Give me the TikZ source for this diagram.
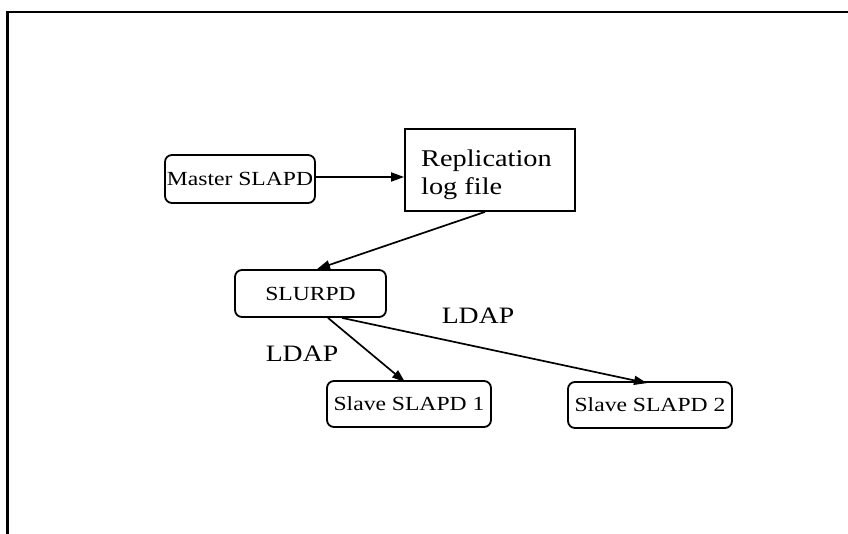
\documentclass[tikz,border=0pt]{standalone}
\usepackage{fontspec}
\setmainfont[FakeStretch=1.18]{Liberation Serif}
\usetikzlibrary{arrows.meta}
\tikzset{
  box/.style={draw, line width=1.8pt, rounded corners=7pt, inner sep=0pt,
              font=\fontsize{20}{23}\selectfont},
  logbox/.style={draw, line width=1.8pt, inner sep=0pt},
  logtext/.style={inner sep=0pt, font=\fontsize{24}{28}\selectfont},
  proto/.style={font=\fontsize{23.5}{26}\selectfont, inner sep=0pt},
  link/.style={line width=1.7pt, -{Triangle[length=13pt,width=9pt]}},
  frame/.style={line width=2.5pt}
}
\begin{document}
\begin{tikzpicture}[x=1pt,y=-1pt]
  \useasboundingbox (0,0) rectangle (848,534);
  % page frame: top and left edges
  \coordinate (ftl) at (7.5,12);
  \coordinate (ftr) at (850,12);
  \coordinate (fbl) at (7.5,536);
  \draw[frame] (ftr) -- (ftl) -- (fbl);

  \node[box, minimum width=150pt, minimum height=48pt] (master) at (240,179) {Master SLAPD};
  \node[logbox, minimum width=170pt, minimum height=82pt] (log) at (490,170) {};
  \node[logtext, anchor=base west] (logl1) at (421,167) {Replication};
  \node[logtext, anchor=base west] (logl2) at (421,195) {log file};
  \node[box, minimum width=151pt, minimum height=47pt] (slurpd) at (310.5,293.5) {SLURPD};
  \node[box, minimum width=164pt, minimum height=46pt] (slave1) at (409,404) {Slave SLAPD 1};
  \node[box, minimum width=164pt, minimum height=46pt] (slave2) at (650,405) {Slave SLAPD 2};

  \node[proto] (ldapa) at (302,354) {LDAP};
  \node[proto] (ldapb) at (478,316) {LDAP};

  \draw[link] (master.east |- 0,177) -- (log.west |- 0,177);
  \draw[link] ([xshift=-5pt]log.south) -- ([xshift=6.5pt]slurpd.north);
  \draw[link] ([xshift=17.5pt]slurpd.south) -- ([xshift=-4pt,yshift=-2pt]slave1.north);
  \draw[link] ([xshift=31.5pt]slurpd.south) -- ([xshift=-3pt,yshift=-2pt]slave2.north);
\end{tikzpicture}
\end{document}
